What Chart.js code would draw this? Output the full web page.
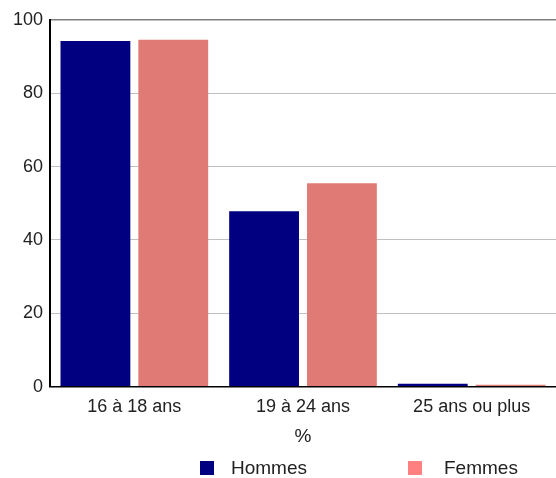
<!DOCTYPE html>
<html>
<head>
<meta charset="utf-8">
<script src="https://cdn.jsdelivr.net/npm/chart.js@4"></script>
<style>
    html, body { margin: 0; padding: 0; background: #fff; overflow: hidden; }
    #wrap { position: relative; width: 556px; height: 478px; }
    #chart { display: block; }
    #legend { position: absolute; left: 0; top: 457px; width: 556px; height: 22px;
              font-family: "Liberation Sans", Arial, sans-serif; font-size: 19px; color: #222; }
    .item { position: absolute; top: 0; display: flex; align-items: center; }
    .box { width: 14px; height: 14px; }
</style>
</head>
<body>
<div id="wrap">
    <canvas id="chart" width="556" height="478"></canvas>
    <div id="legend"></div>
</div>
<script>
// Data
const categories = ['16 à 18 ans', '19 à 24 ans', '25 ans ou plus'];
const hommes = [94.3, 47.8, 0.8];
const femmes = [94.6, 55.5, 0.5];
const seriesNames = ['Hommes', 'Femmes'];
const yTicks = [0, 20, 40, 60, 80, 100];
const axisTitle = '%';

const barColors = ['#000080', '#e07a74'];
const legendColors = ['#000080', '#ff8080'];
const font = "'Liberation Sans', Arial, sans-serif";

const ctx = document.getElementById('chart').getContext('2d');
const chart = new Chart(ctx, {
    type: 'bar',
    data: {
        labels: categories,
        datasets: [
            {
                label: seriesNames[0],
                data: hommes,
                backgroundColor: barColors[0],
                barPercentage: 0.897,
                categoryPercentage: 0.923
            },
            {
                label: seriesNames[1],
                data: femmes,
                backgroundColor: barColors[1],
                barPercentage: 0.897,
                categoryPercentage: 0.923
            }
        ]
    },
    options: {
        responsive: false,
        animation: false,
        layout: { padding: { top: 20, right: 0, bottom: 30, left: 0 } },
        plugins: {
            legend: { display: false },
            tooltip: { enabled: false }
        },
        scales: {
            x: {
                grid: { display: false, drawTicks: false },
                border: { color: '#000', width: 1.5 },
                ticks: { color: '#222', font: { family: font, size: 18 }, padding: 10 },
                title: { display: true, text: axisTitle, color: '#222', font: { family: font, size: 19 }, padding: { top: -3, bottom: 0 } }
            },
            y: {
                min: 0,
                max: 100,
                afterBuildTicks: (scale) => { scale.ticks = yTicks.map(v => ({ value: v })); },
                afterFit: (scale) => { scale.width = 50; },
                grid: {
                    drawTicks: false,
                    color: (c) => c.tick && c.tick.value === 100 ? '#808080' : '#c0c0c0',
                    lineWidth: (c) => c.tick && c.tick.value === 100 ? 1.5 : 1
                },
                border: { color: '#000', width: 2 },
                ticks: { color: '#222', font: { family: font, size: 18 }, padding: 7 }
            }
        }
    }
});

// Legend
const legend = document.getElementById('legend');
const legendX = [200, 408];
const legendGap = [17, 22];
seriesNames.forEach((name, i) => {
    const item = document.createElement('div');
    item.className = 'item';
    item.style.left = legendX[i] + 'px';
    const box = document.createElement('span');
    box.className = 'box';
    box.style.background = legendColors[i];
    box.style.marginRight = legendGap[i] + 'px';
    const label = document.createElement('span');
    label.textContent = name;
    item.appendChild(box);
    item.appendChild(label);
    legend.appendChild(item);
});
</script>
</body>
</html>
